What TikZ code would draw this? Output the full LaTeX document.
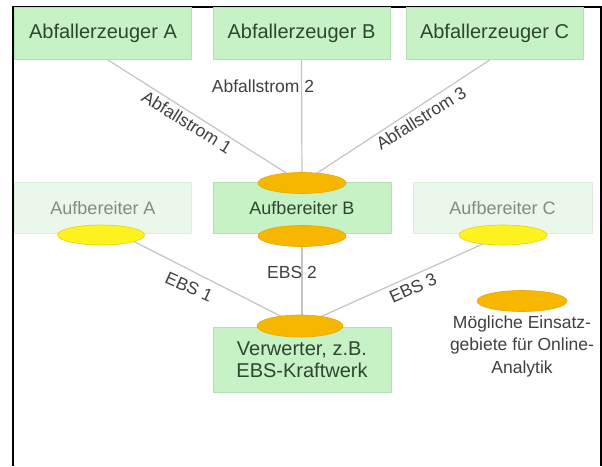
\documentclass[tikz,border=0pt]{standalone}
\usepackage{fontspec}
\setmainfont{Liberation Sans}
\usetikzlibrary{shapes.geometric,backgrounds}
\definecolor{boxgreen}{HTML}{C6F2C6}
\definecolor{boxgreenline}{HTML}{B2E2B2}
\definecolor{palegreen}{HTML}{EAF8EA}
\definecolor{palegreenline}{HTML}{DAEEDA}
\definecolor{darktext}{HTML}{2F452F}
\definecolor{paletext}{HTML}{7E8E7E}
\definecolor{orangefill}{HTML}{F7B700}
\definecolor{orangeline}{HTML}{E9A800}
\definecolor{yellowfill}{HTML}{FFF21E}
\definecolor{yellowline}{HTML}{E2D400}
\definecolor{linegrey}{HTML}{C4C4C4}
\definecolor{labeltext}{HTML}{404040}
\tikzset{
  topbox/.style={draw=boxgreenline, line width=0.8pt, fill=boxgreen, text=darktext,
    minimum width=177pt, minimum height=52pt, inner sep=0pt,
    font=\fontsize{20}{22}\selectfont},
  midbox/.style={draw=boxgreenline, line width=0.8pt, fill=boxgreen, text=darktext,
    minimum width=178pt, minimum height=51pt, inner sep=0pt,
    font=\fontsize{18}{20}\selectfont},
  palebox/.style={draw=palegreenline, line width=0.8pt, fill=palegreen, text=paletext,
    minimum width=177pt, minimum height=51pt, inner sep=0pt,
    font=\fontsize{18}{20}\selectfont},
  endbox/.style={draw=boxgreenline, line width=0.8pt, fill=boxgreen, text=darktext,
    minimum width=178pt, minimum height=65pt, inner sep=0pt, align=center,
    font=\fontsize{20}{22}\selectfont},
  ora/.style={ellipse, draw=orangeline, line width=0.6pt, fill=orangefill,
    minimum width=88pt, minimum height=21pt, inner sep=0pt},
  yel/.style={ellipse, draw=yellowline, line width=0.6pt, fill=yellowfill,
    minimum width=87pt, minimum height=20pt, inner sep=0pt},
  flow/.style={draw=linegrey, line width=1.2pt},
  lbl/.style={text=labeltext, inner sep=0pt, font=\fontsize{17.5}{20}\selectfont},
  legend/.style={text=labeltext, inner sep=0pt, align=center,
    font=\fontsize{17.5}{22.5}\selectfont}
}
\begin{document}
\begin{tikzpicture}[x=1pt,y=-1pt]
\useasboundingbox (0,0) rectangle (602,466);
% frame
\coordinate (f1) at (13,466);
\coordinate (f2) at (13,7);
\coordinate (f3) at (601,7);
\coordinate (f4) at (601,466);
\draw[black, line width=1.2pt] (f1) -- (f2) -- (f3) -- (f4);
% top row
\node[topbox] (za) at (103,33) {Abfallerzeuger A};
\node[topbox] (zb) at (301.5,33) {Abfallerzeuger B};
\node[topbox] (zc) at (494.5,33) {Abfallerzeuger C};
% middle row
\node[palebox] (aa) at (103,208) {Aufbereiter A};
\node[midbox] (ab) at (302,208) {Aufbereiter B};
\node[palebox, minimum width=179pt] (ac) at (502.5,208) {Aufbereiter C};
% bottom
\node[endbox] (vw) at (302,359.5) {Verwerter, z.B.\\EBS-Kraftwerk};
% ellipses
\node[ora] (eb1) at (302,183) {};
\node[ora] (eb2) at (302,236) {};
\node[yel] (ya) at (101,235) {};
\node[yel, minimum width=88pt] (yc) at (503,235) {};
\node[ora, minimum width=86pt, minimum height=22pt] (ev) at (300,326) {};
\node[ora, minimum width=90pt] (el) at (522,301) {};
% connectors and white background
\begin{scope}[on background layer]
\fill[white] (0,0) rectangle (602,466);
\draw[flow] ([xshift=4pt]za.south) -- (eb1.center);
\draw[flow] (zb.south) -- (eb1.center);
\draw[flow] ([xshift=-4pt]zc.south) -- (eb1.center);
\draw[flow] (eb2.center) -- ([xshift=2pt]ev.center);
\draw[flow] (ya.north) -- (ev.center);
\draw[flow] (yc.center) -- (ev.center);
\end{scope}
% labels
\node[lbl, rotate=-32] (l1) at (187,122) {Abfallstrom 1};
\node[lbl] (l2) at (263,86) {Abfallstrom 2};
\node[lbl, rotate=32] (l3) at (421,118) {Abfallstrom 3};
\node[lbl, rotate=-24] (e1) at (189,287) {EBS 1};
\node[lbl] (e2) at (292,272) {EBS 2};
\node[lbl, rotate=24] (e3) at (413,288) {EBS 3};
\node[legend] (lg) at (522,346) {Mögliche Einsatz-\\gebiete für Online-\\Analytik};
\end{tikzpicture}
\end{document}
